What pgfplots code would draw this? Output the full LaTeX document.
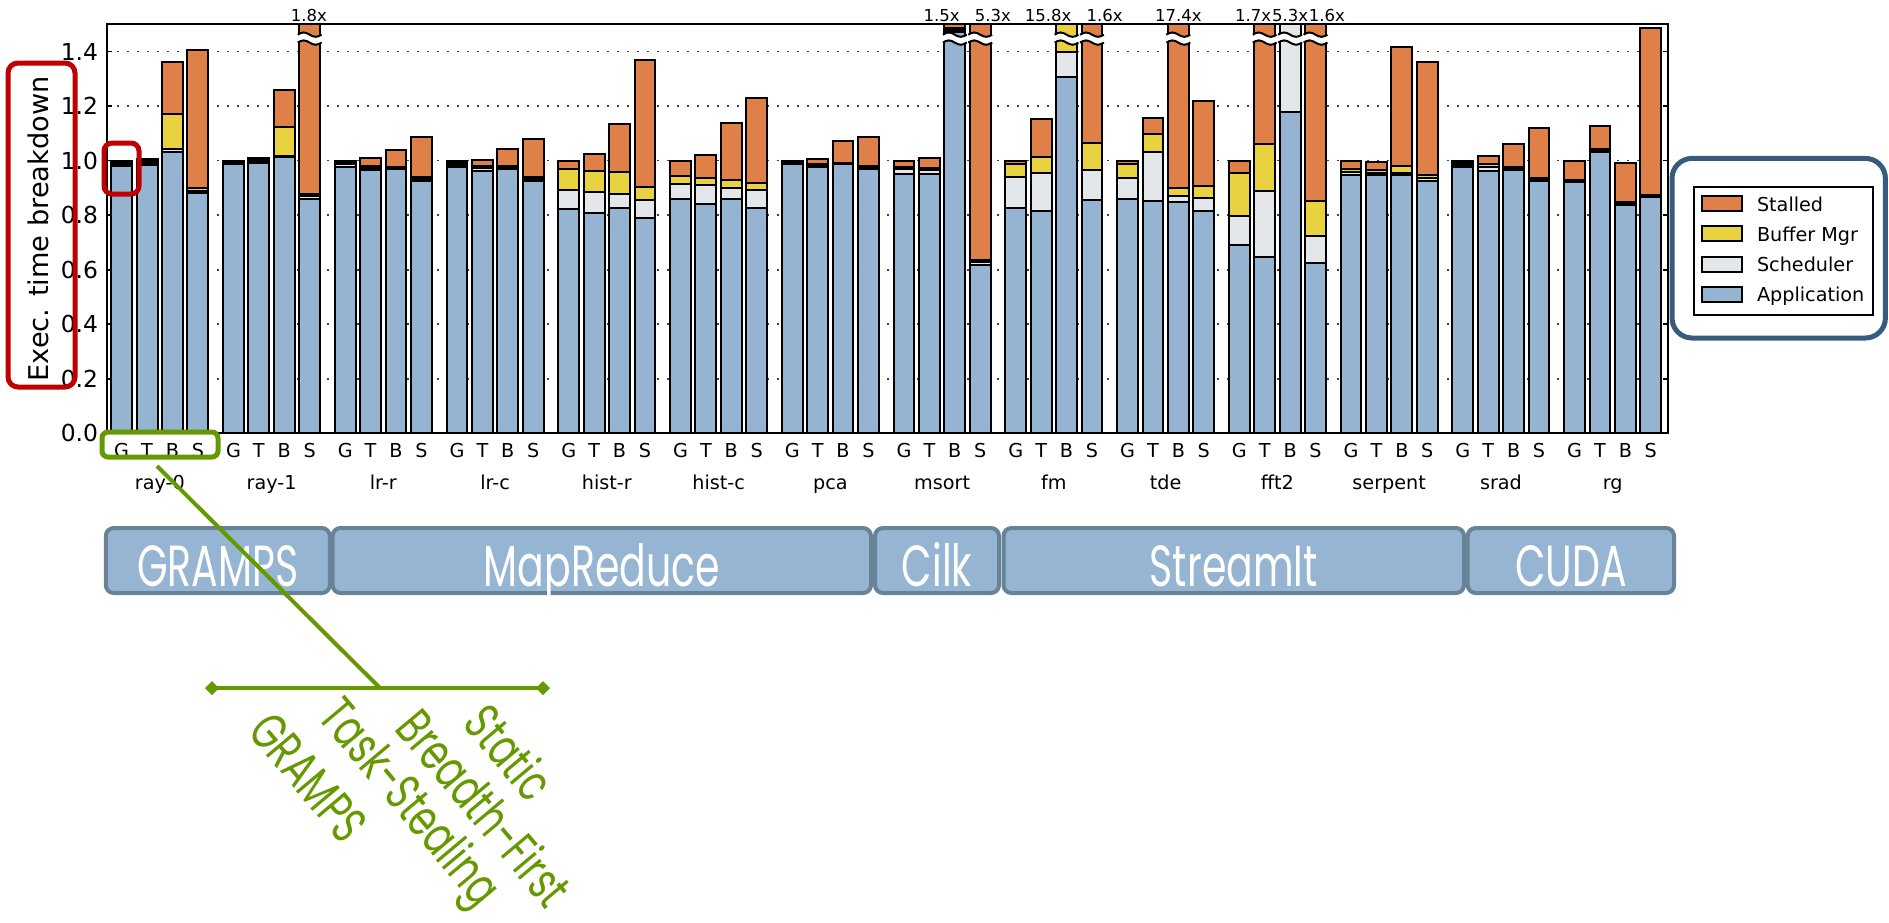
\documentclass[border=0pt]{standalone}
\usepackage{pgfplots}
\pgfplotsset{compat=1.18}
\usepackage{pgfplotstable}
\usepackage{fontspec}
\setmainfont{DejaVu Sans}
\newfontfamily\boxfont[FakeStretch=0.68]{Poppins}
\newfontfamily\grnfont[FakeStretch=0.70]{Poppins}
\definecolor{appc}{RGB}{148,180,210}
\definecolor{schc}{RGB}{227,231,234}
\definecolor{bufc}{RGB}{232,210,64}
\definecolor{stlc}{RGB}{222,128,72}
\definecolor{catfill}{RGB}{149,181,210}
\definecolor{catdraw}{RGB}{104,130,152}
\definecolor{ann}{RGB}{102,153,0}
\definecolor{redb}{RGB}{192,0,0}
\definecolor{legb}{RGB}{55,90,125}
\tikzset{toplab/.style={font=\fontsize{8.25}{10}\selectfont, anchor=base, yshift=1.65pt},
  grplab/.style={font=\fontsize{9.6}{11.5}\selectfont, anchor=base, yshift=-27.85pt}}
\newcommand\brk[1]{%
  \begin{scope}[shift={(#1)}]
  \fill[white] (-5.97pt,-1.98pt) sin (-2.985pt,-0.89pt) cos (0pt,-1.98pt) sin (2.985pt,-3.07pt) cos (5.97pt,-1.98pt)
     -- (5.97pt,1.98pt) sin (2.985pt,0.89pt) cos (0pt,1.98pt) sin (-2.985pt,3.07pt) cos (-5.97pt,1.98pt) -- cycle;
  \draw[line width=1pt] (-5.97pt,-1.98pt) sin (-2.985pt,-0.89pt) cos (0pt,-1.98pt) sin (2.985pt,-3.07pt) cos (5.97pt,-1.98pt);
  \draw[line width=1pt] (-5.97pt,1.98pt) sin (-2.985pt,3.07pt) cos (0pt,1.98pt) sin (2.985pt,0.89pt) cos (5.97pt,1.98pt);
  \end{scope}
}

\pgfplotstableread{
x    app   sch   buf   stl
0    0.982 0.006 0.006 0.006
1    0.984 0.007 0.007 0.008
2    1.030 0.014 0.126 0.190
3    0.880 0.009 0.009 0.507
4.4  0.988 0.006 0.006 0.000
5.4  0.990 0.006 0.006 0.006
6.4  1.012 0.005 0.106 0.135
7.4  0.861 0.008 0.009 0.622
8.8  0.978 0.008 0.008 0.006
9.8  0.965 0.008 0.007 0.028
10.8 0.968 0.004 0.004 0.063
11.8 0.927 0.007 0.006 0.148
13.2 0.976 0.008 0.008 0.008
14.2 0.963 0.010 0.009 0.019
15.2 0.970 0.005 0.005 0.061
16.2 0.925 0.008 0.007 0.140
17.6 0.823 0.068 0.077 0.032
18.6 0.809 0.076 0.077 0.063
19.6 0.827 0.051 0.080 0.178
20.6 0.790 0.064 0.050 0.464
22   0.860 0.055 0.028 0.057
23   0.842 0.067 0.026 0.084
24   0.860 0.038 0.031 0.210
25   0.826 0.065 0.028 0.310
26.4 0.986 0.005 0.005 0.004
27.4 0.976 0.007 0.006 0.016
28.4 0.987 0.002 0.002 0.082
29.4 0.970 0.005 0.005 0.107
30.8 0.952 0.016 0.008 0.024
31.8 0.952 0.012 0.008 0.039
32.8 1.470 0.009 0.009 0.012
33.8 0.619 0.009 0.009 0.863
35.2 0.826 0.114 0.049 0.011
36.2 0.817 0.139 0.058 0.138
37.2 1.305 0.094 0.101 0.000
38.2 0.854 0.111 0.098 0.437
39.6 0.858 0.077 0.054 0.011
40.6 0.851 0.180 0.065 0.059
41.6 0.848 0.022 0.028 0.602
42.6 0.815 0.049 0.043 0.312
44   0.690 0.106 0.160 0.044
45   0.646 0.242 0.174 0.438
46   1.178 0.322 0.000 0.000
47   0.625 0.100 0.126 0.649
48.4 0.949 0.010 0.009 0.032
49.4 0.946 0.009 0.009 0.032
50.4 0.949 0.007 0.024 0.435
51.4 0.927 0.011 0.011 0.411
52.8 0.976 0.008 0.008 0.008
53.8 0.962 0.014 0.010 0.031
54.8 0.964 0.006 0.006 0.084
55.8 0.927 0.005 0.005 0.184
57.2 0.921 0.004 0.004 0.071
58.2 1.031 0.005 0.005 0.086
59.2 0.839 0.005 0.004 0.144
60.2 0.867 0.003 0.003 0.613
}\data

\begin{document}
\begin{tikzpicture}
\useasboundingbox (0pt,0pt) rectangle (944.5pt,-461pt);
\begin{axis}[
  at={(53.35pt,-216.65pt)}, anchor=south west,
  scale only axis, width=780.8pt, height=204.5pt,
  xmin=-0.59, xmax=60.89, ymin=0, ymax=1.5,
  ybar stacked, bar width=0.82,
  clip=false,
  axis line style={line width=1pt},
  ytick={0,0.2,0.4,0.6,0.8,1.0,1.2,1.4},
  /pgf/number format/assume math mode=true,
  yticklabel style={/pgf/number format/.cd, fixed, fixed zerofill, precision=1, /tikz/.cd,
    font=\fontsize{11.7}{14}\selectfont, xshift=-0.8pt},
  tick align=inside, major tick length=2.5pt,
  tick style={line width=0.8pt, black},
  xtick=data,
  xtick style={draw=none},
  xticklabels={G,T,B,S,G,T,B,S,G,T,B,S,G,T,B,S,G,T,B,S,G,T,B,S,G,T,B,S,G,T,B,S,G,T,B,S,G,T,B,S,G,T,B,S,G,T,B,S,G,T,B,S,G,T,B,S},
  xticklabel style={font=\fontsize{9.6}{11}\selectfont, anchor=center, yshift=-8.35pt},
  ymajorgrids,
  grid style={dash pattern=on 1pt off 4pt, line width=0.8pt, black!75},
  ylabel={Exec. time breakdown},
  every axis y label/.style={at={(axis description cs:-0.044,0.5)}, rotate=90, anchor=center, font=\fontsize{13.6}{16}\selectfont},
]
\addplot[fill=appc, draw=black, line width=1pt] table[x=x, y=app] {\data};
\addplot[fill=schc, draw=black, line width=1pt] table[x=x, y=sch] {\data};
\addplot[fill=bufc, draw=black, line width=1pt] table[x=x, y=buf] {\data};
\addplot[fill=stlc, draw=black, line width=1pt] table[x=x, y=stl] {\data};

\coordinate (bk1) at (axis cs:7.4,1.4475);
\coordinate (bk2) at (axis cs:32.8,1.4475);
\coordinate (bk3) at (axis cs:33.8,1.4475);
\coordinate (bk4) at (axis cs:37.2,1.4475);
\coordinate (bk5) at (axis cs:38.2,1.4475);
\coordinate (bk6) at (axis cs:41.6,1.4475);
\coordinate (bk7) at (axis cs:45,1.4475);
\coordinate (bk8) at (axis cs:46,1.4475);
\coordinate (bk9) at (axis cs:47,1.4475);

\node[toplab] at (axis cs:7.37,1.5) {1.8x};
\node[toplab] at (axis cs:32.28,1.5) {1.5x};
\node[toplab] at (axis cs:34.30,1.5) {5.3x};
\node[toplab] at (axis cs:36.47,1.5) {15.8x};
\node[toplab] at (axis cs:38.70,1.5) {1.6x};
\node[toplab] at (axis cs:41.6,1.5) {17.4x};
\node[toplab] at (axis cs:44.54,1.5) {1.7x};
\node[toplab] at (axis cs:46.0,1.5) {5.3x};
\node[toplab] at (axis cs:47.45,1.5) {1.6x};

\node[grplab] at (axis cs:1.5,0) {ray-0};
\node[grplab] at (axis cs:5.9,0) {ray-1};
\node[grplab] at (axis cs:10.3,0) {lr-r};
\node[grplab] at (axis cs:14.7,0) {lr-c};
\node[grplab] at (axis cs:19.1,0) {hist-r};
\node[grplab] at (axis cs:23.5,0) {hist-c};
\node[grplab] at (axis cs:27.9,0) {pca};
\node[grplab] at (axis cs:32.3,0) {msort};
\node[grplab] at (axis cs:36.7,0) {fm};
\node[grplab] at (axis cs:41.1,0) {tde};
\node[grplab] at (axis cs:45.5,0) {fft2};
\node[grplab] at (axis cs:49.9,0) {serpent};
\node[grplab] at (axis cs:54.3,0) {srad};
\node[grplab] at (axis cs:58.7,0) {rg};
\end{axis}

\brk{bk1}\brk{bk2}\brk{bk3}\brk{bk4}\brk{bk5}\brk{bk6}\brk{bk7}\brk{bk8}\brk{bk9}

% legend
\draw[line width=0.8pt, fill=white] (847pt,-93.5pt) rectangle (936.5pt,-157.5pt);
\tikzset{legtxt/.style={font=\fontsize{9.6}{11.5}\selectfont, anchor=base west, inner sep=0pt}}
\filldraw[fill=stlc, draw=black, line width=1pt] (851pt,-105.5pt) rectangle (871pt,-98pt);
\node[legtxt] at (878.3pt,-105.5pt) {Stalled};
\filldraw[fill=bufc, draw=black, line width=1pt] (851pt,-120.6pt) rectangle (871pt,-113.1pt);
\node[legtxt] at (878.3pt,-120.6pt) {Buffer Mgr};
\filldraw[fill=schc, draw=black, line width=1pt] (851pt,-135.8pt) rectangle (871pt,-128.3pt);
\node[legtxt] at (878.3pt,-135.8pt) {Scheduler};
\filldraw[fill=appc, draw=black, line width=1pt] (851pt,-150.9pt) rectangle (871pt,-143.4pt);
\node[legtxt] at (878.3pt,-150.9pt) {Application};

% framework boxes
\filldraw[fill=catfill, draw=catdraw, rounded corners=4pt, line width=2pt] (52.9pt,-264pt) rectangle (164.9pt,-296.5pt);
\filldraw[fill=catfill, draw=catdraw, rounded corners=4pt, line width=2pt] (166.3pt,-264pt) rectangle (435.5pt,-296.5pt);
\filldraw[fill=catfill, draw=catdraw, rounded corners=4pt, line width=2pt] (437.5pt,-264pt) rectangle (499.5pt,-296.5pt);
\filldraw[fill=catfill, draw=catdraw, rounded corners=4pt, line width=2pt] (501.75pt,-264pt) rectangle (732pt,-296.5pt);
\filldraw[fill=catfill, draw=catdraw, rounded corners=4pt, line width=2pt] (733.85pt,-264pt) rectangle (837pt,-296.5pt);
\tikzset{boxlab/.style={font=\boxfont\fontsize{29}{32}\selectfont, text=white, anchor=base}}
\node[boxlab] at (108.9pt,-293pt) {GRAMPS};
\node[boxlab] at (300.9pt,-293pt) {MapReduce};
\node[boxlab] at (468.5pt,-293pt) {Cilk};
\node[boxlab] at (616.9pt,-293pt) {StreamIt};
\node[boxlab] at (785.4pt,-293pt) {CUDA};

% highlight boxes
\draw[redb, line width=2.5pt, rounded corners=5pt] (4pt,-31.5pt) rectangle (37.5pt,-193.5pt);
\draw[redb, line width=2.5pt, rounded corners=4pt] (52pt,-71.5pt) rectangle (69.5pt,-97pt);
\draw[legb, line width=2.5pt, rounded corners=10pt] (836pt,-79.2pt) rectangle (942.7pt,-169pt);

% green annotation
\draw[ann, line width=2.5pt, rounded corners=3pt] (51pt,-216pt) rectangle (109pt,-228.5pt);
\draw[ann, line width=2pt] (78.5pt,-233pt) -- (190pt,-344pt);
\draw[ann, line width=2pt] (106pt,-344pt) -- (271.5pt,-344pt);
\fill[ann] (102.5pt,-344pt) -- (106pt,-340.5pt) -- (109.5pt,-344pt) -- (106pt,-347.5pt) -- cycle;
\fill[ann] (268pt,-344pt) -- (271.5pt,-340.5pt) -- (275pt,-344pt) -- (271.5pt,-347.5pt) -- cycle;
\tikzset{grn/.style={font=\grnfont\fontsize{26}{30}\selectfont, text=ann, rotate=-50}}
\node[grn] at (154.2pt,-388.7pt) {GRAMPS};
\node[grn] at (203.4pt,-402.5pt) {Task-Stealing};
\node[grn] at (242.5pt,-403.7pt) {Breadth-First};
\node[grn] at (255pt,-375.9pt) {Static};
\end{tikzpicture}
\end{document}
